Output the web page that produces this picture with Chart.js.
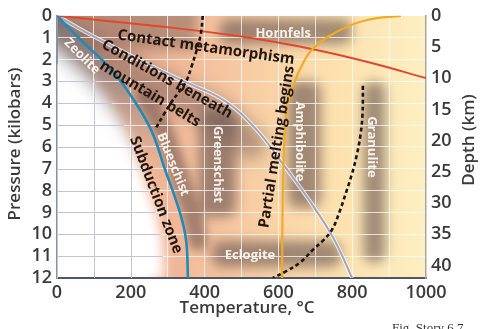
<!DOCTYPE html>
<html>
<head>
<meta charset="utf-8">
<script src="https://cdn.jsdelivr.net/npm/chart.js@4.4.1/dist/chart.umd.min.js"></script>
<style>
html, body { margin: 0; padding: 0; background: #fff; }
#wrap { position: relative; width: 482px; height: 329px; overflow: hidden; }
</style>
</head>
<body>
<div id="wrap"><canvas id="c" width="482" height="329"></canvas></div>
<script>
// curves: temperature (°C) against pressure (kbar)
const contactT = [0, 250, 500, 700, 850, 1000];
const contactP = [0, 0.43, 0.95, 1.55, 2.15, 2.85];

const subductT = [0, 70, 144, 206, 257, 290, 333, 350, 355];
const subductP = [0, 1.2, 2.4, 3.8, 5.3, 6.9, 9.0, 10.3, 12];

const mountainT = [0, 100, 250, 350, 455, 540, 613, 686, 750, 800];
const mountainP = [0, 0.95, 2.25, 3.05, 3.9, 5.2, 6.8, 8.5, 10.2, 12];

const meltT = [932, 843, 770, 694, 660, 640, 626, 617, 612, 610];
const meltP = [0, 0.18, 0.63, 1.5, 2.4, 3.2, 3.9, 5.5, 8, 12];

const lowLimitT = [395, 390, 378, 365, 350, 330, 312, 290, 266];
const lowLimitP = [0, 0.8, 1.6, 2.3, 3.0, 3.5, 3.9, 4.5, 5.2];

const highLimitT = [829, 828, 822, 812, 800, 785, 765, 745, 720, 694, 658, 620, 585];
const highLimitP = [3.2, 4.5, 5.5, 6.4, 7.2, 8.0, 9.0, 9.8, 10.3, 10.7, 11.3, 11.7, 12];

// facies fields (temperature range, pressure range)
const facies = ['Hornfels', 'Greenschist', 'Amphibolite', 'Granulite', 'Eclogite'];
const faciesT = [[440, 800], [385, 485], [625, 715], [830, 890], [420, 770]];
const faciesP = [[0.15, 1.3], [4.3, 9.2], [3.0, 8.8], [3.0, 11.3], [10.3, 11.5]];

// labels written on the plot
const notes = [
    { t: 'Contact metamorphism', T: 404, P: 1.45, a: 8, dark: true },
    { t: 'Conditions beneath', T: 298, P: 2.9, a: 29, dark: true },
    { t: 'mountain belts', T: 252, P: 3.58, a: 31, dark: true },
    { t: 'Subduction zone', T: 268, P: 8.2, a: 69, dark: true },
    { t: 'Partial melting begins', T: 596, P: 6.0, a: -81, dark: true },
    { t: 'Hornfels', T: 613, P: 0.82, a: 0 },
    { t: 'Zeolite', T: 68, P: 1.86, a: 45 },
    { t: 'Blueschist', T: 314, P: 6.8, a: 68 },
    { t: 'Greenschist', T: 436, P: 6.8, a: 90 },
    { t: 'Amphibolite', T: 658, P: 5.75, a: 90 },
    { t: 'Granulite', T: 853, P: 6.0, a: 90 },
    { t: 'Eclogite', T: 523, P: 10.96, a: 0 }
];

const KM_PER_KBAR = 3.5;

const pts = (T, P) => T.map((t, i) => ({ x: t, y: P[i] }));

function line(T, P, color, width, dash) {
    return {
        data: pts(T, P), showLine: true, borderColor: color, borderWidth: width,
        borderDash: dash || [], pointRadius: 0, tension: 0.4, yAxisID: 'y'
    };
}

// path helpers (pixel space from the scales)
function trace(chart, T, P, dx, dy, first) {
    const { x, y } = chart.scales;
    const ctx = chart.ctx;
    T.forEach((t, i) => {
        const X = x.getPixelForValue(t) + (dx || 0), Y = y.getPixelForValue(P[i]) + (dy || 0);
        if (i === 0 && first) ctx.moveTo(X, Y); else ctx.lineTo(X, Y);
    });
}

function leftOfSubduction(chart, dx) {
    const a = chart.chartArea, ctx = chart.ctx;
    ctx.beginPath();
    ctx.moveTo(a.left - 40, a.top);
    trace(chart, subductT, subductP, dx, 0, false);
    ctx.lineTo(a.left - 40, a.bottom + 40);
    ctx.closePath();
}

function warmFill(chart) {
    const { x } = chart.scales;
    const g = chart.ctx.createLinearGradient(x.getPixelForValue(150), 0, x.getPixelForValue(1000), 0);
    g.addColorStop(0, '#efb094');
    g.addColorStop(0.3, '#f4c09d');
    g.addColorStop(0.55, '#fad6a8');
    g.addColorStop(0.75, '#fde3b0');
    g.addColorStop(1, '#fdefc2');
    return g;
}

const backdrop = {
    id: 'backdrop',
    beforeDraw(chart) {
        const { ctx, chartArea: a, scales: { x, y } } = chart;
        ctx.save();
        ctx.beginPath();
        ctx.rect(a.left, a.top, a.right - a.left, a.bottom - a.top);
        ctx.clip();
        ctx.fillStyle = warmFill(chart);
        ctx.fillRect(a.left, a.top, a.right - a.left, a.bottom - a.top);

        // shaded fields
        ctx.filter = 'blur(6px)';
        ctx.fillStyle = 'rgba(110, 88, 82, 0.45)';
        ctx.fillRect(x.getPixelForValue(0), y.getPixelForValue(0) - 10, x.getPixelForValue(380) - x.getPixelForValue(0), y.getPixelForValue(1.6) - y.getPixelForValue(0) + 10);
        facies.forEach((f, i) => {
            const x0 = x.getPixelForValue(faciesT[i][0]), x1 = x.getPixelForValue(faciesT[i][1]);
            const y0 = y.getPixelForValue(faciesP[i][0]), y1 = y.getPixelForValue(faciesP[i][1]);
            ctx.fillStyle = 'rgba(105, 85, 80, 0.62)';
            ctx.beginPath();
            ctx.roundRect(x0, y0, x1 - x0, y1 - y0, 10);
            ctx.fill();
        });

        // band beneath the mountain-belt curve
        ctx.filter = 'blur(9px)';
        ctx.lineCap = 'round';
        ctx.strokeStyle = 'rgba(105, 84, 80, 0.5)';
        ctx.lineWidth = 30;
        ctx.beginPath();
        trace(chart, mountainT.slice(0, 6), mountainP.slice(0, 6), -6, 14, true);
        ctx.stroke();

        // blueschist band along the subduction curve
        ctx.filter = 'blur(5px)';
        ctx.strokeStyle = 'rgba(100, 78, 72, 0.55)';
        ctx.lineWidth = 20;
        ctx.beginPath();
        trace(chart, subductT.slice(3, 8), subductP.slice(3, 8), 12, 0, true);
        ctx.stroke();

        // cold side of the subduction curve
        ctx.filter = 'none';
        ctx.save();
        leftOfSubduction(chart, 0);
        ctx.clip();
        ctx.fillStyle = '#f0b697';
        ctx.fillRect(a.left, a.top, a.right - a.left, a.bottom - a.top);
        ctx.filter = 'blur(6px)';
        ctx.fillStyle = '#ffffff';
        leftOfSubduction(chart, -24);
        ctx.fill();
        const zg = ctx.createLinearGradient(0, y.getPixelForValue(0), 0, y.getPixelForValue(7));
        zg.addColorStop(0, 'rgba(92, 92, 102, 0.8)');
        zg.addColorStop(0.45, 'rgba(105, 105, 115, 0.5)');
        zg.addColorStop(1, 'rgba(120, 120, 130, 0)');
        ctx.strokeStyle = zg;
        ctx.lineWidth = 44;
        ctx.filter = 'blur(9px)';
        ctx.beginPath();
        trace(chart, subductT.slice(0, 6), subductP.slice(0, 6), -4, 0, true);
        ctx.stroke();
        ctx.restore();

        ctx.restore();
    },
    beforeDatasetsDraw(chart) {
        // grey grid where the background is white
        const { ctx, chartArea: a, scales: { x, y } } = chart;
        ctx.save();
        ctx.beginPath();
        ctx.rect(a.left, y.getPixelForValue(2.2), a.right - a.left, a.bottom - y.getPixelForValue(2.2));
        ctx.clip();
        leftOfSubduction(chart, -24);
        ctx.clip();
        ctx.strokeStyle = '#c3c5d0';
        ctx.lineWidth = 1;
        ctx.beginPath();
        x.ticks.forEach(tk => { const X = Math.round(x.getPixelForValue(tk.value)) + 0.5; ctx.moveTo(X, a.top); ctx.lineTo(X, a.bottom); });
        y.ticks.forEach(tk => { const Y = Math.round(y.getPixelForValue(tk.value)) + 0.5; ctx.moveTo(a.left, Y); ctx.lineTo(a.right, Y); });
        ctx.stroke();
        ctx.restore();
    },
    afterDatasetsDraw(chart) {
        const { ctx, scales: { x, y } } = chart;
        ctx.save();
        ctx.textAlign = 'center';
        ctx.textBaseline = 'middle';
        notes.forEach(n => {
            ctx.save();
            ctx.translate(x.getPixelForValue(n.T), y.getPixelForValue(n.P));
            ctx.rotate(n.a * Math.PI / 180);
            if (n.dark) {
                ctx.font = 'bold 15px "Open Sans"';
                ctx.fillStyle = '#24160f';
            } else {
                ctx.font = 'bold 13px "Open Sans"';
                ctx.fillStyle = 'rgba(255, 250, 246, 0.92)';
            }
            ctx.fillText(n.t, 0, 0);
            ctx.restore();
        });
        ctx.restore();
    },
    afterDraw(chart) {
        const ctx = chart.ctx;
        ctx.save();
        ctx.fillStyle = '#3a3a3a';
        ctx.font = '600 17px "Open Sans"';
        ctx.textAlign = 'center';
        ctx.textBaseline = 'middle';
        ctx.fillText('Temperature, °C', 247, 308);
        ctx.save();
        ctx.translate(15, 144);
        ctx.rotate(-Math.PI / 2);
        ctx.fillText('Pressure (kilobars)', 0, 0);
        ctx.restore();
        ctx.save();
        ctx.translate(469, 140);
        ctx.rotate(-Math.PI / 2);
        ctx.fillText('Depth (km)', 0, 0);
        ctx.restore();
        ctx.textAlign = 'left';
        ctx.textBaseline = 'alphabetic';
        ctx.font = '13px "Liberation Serif"';
        ctx.fillStyle = '#333';
        ctx.fillText('Fig. Story 6.7', 392, 332);
        ctx.restore();
    }
};

const tickFont = { family: 'Open Sans', size: 18, weight: '600' };
const gridWhite = { color: 'rgba(255,255,255,0.72)', lineWidth: 1, drawTicks: false };

new Chart(document.getElementById('c'), {
    type: 'scatter',
    data: {
        // first dataset is drawn on top
        datasets: [
            line(subductT, subductP, '#1f8bb6', 2.6),
            line(lowLimitT, lowLimitP, '#1c1410', 2.6, [4, 3]),
            line(highLimitT, highLimitP, '#1c1410', 2.6, [4, 3]),
            line(meltT, meltP, '#f0ab25', 2.2),
            line(contactT, contactP, '#e2472b', 2),
            line(mountainT, mountainP, '#a2a6ba', 2),
            line(mountainT, mountainP, 'rgba(255,255,255,0.75)', 4)
        ]
    },
    options: {
        responsive: false,
        animation: false,
        devicePixelRatio: 1,
        layout: { padding: { top: 13 } },
        plugins: { legend: { display: false }, tooltip: { enabled: false } },
        scales: {
            x: {
                type: 'linear', min: 0, max: 1000,
                afterFit: s => { s.height = 51; },
                grid: gridWhite,
                border: { color: '#505668', width: 2 },
                ticks: { stepSize: 100, autoSkip: false, padding: 4, color: '#3a3a3a', font: tickFont, maxRotation: 0,
                    callback: v => (v % 200 === 0 ? v : '') }
            },
            y: {
                type: 'linear', position: 'left', reverse: true, min: 0, max: 12,
                afterFit: s => { s.width = 57; },
                grid: gridWhite,
                border: { color: '#8b90a2', width: 2 },
                ticks: { stepSize: 1, autoSkip: false, padding: 5, color: '#3a3a3a', font: tickFont }
            },
            y2: {
                type: 'linear', position: 'right', reverse: true, min: 0, max: 12 * KM_PER_KBAR,
                afterFit: s => { s.width = 56; },
                grid: { drawOnChartArea: false, drawTicks: false },
                border: { color: '#a9a69c', width: 1.5 },
                ticks: { stepSize: 5, autoSkip: false, includeBounds: false, padding: 5, color: '#3a3a3a', font: tickFont }
            }
        }
    },
    plugins: [backdrop]
});
</script>
</body>
</html>
